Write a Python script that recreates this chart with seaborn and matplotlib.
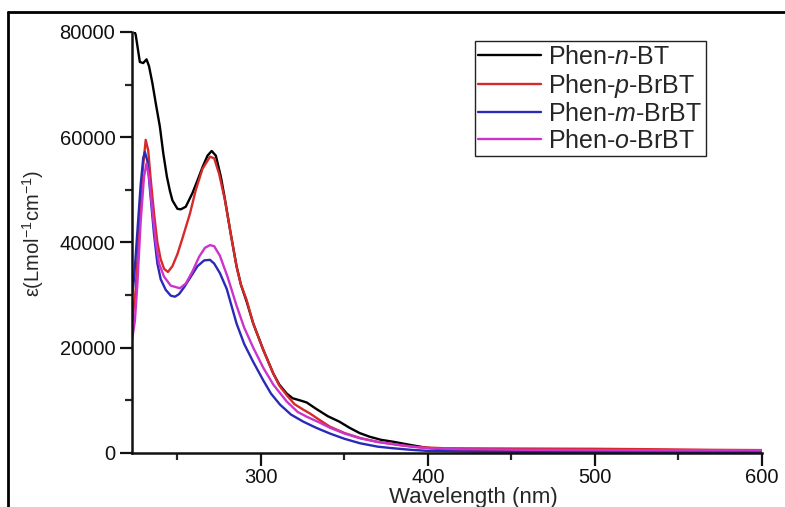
import numpy as np
import pandas as pd
import matplotlib.pyplot as plt
import seaborn as sns
from matplotlib.lines import Line2D
from matplotlib.ticker import MultipleLocator

n_bt_wl = [223, 225, 227.5, 229.5, 231.5, 233, 235, 237, 239.5, 241.5, 243.7, 245.5, 247, 250,
           252, 255, 259, 262, 265, 268, 270.5, 273, 276, 278.4, 282, 285.4, 288, 291.4, 295.4,
           301.4, 307.4, 311, 315.4, 319, 323.4, 327.4, 333, 340, 347, 353, 359, 365, 372, 379,
           390, 399, 410, 430, 460, 500, 550, 600]
n_bt_eps = [81000, 79500, 74300, 74100, 74800, 73500, 70300, 66500, 62000, 57000, 52500, 49800,
            48000, 46400, 46300, 46800, 49400, 51800, 54300, 56500, 57400, 56500, 52500, 48300,
            41500, 35500, 32000, 28800, 24600, 19600, 15100, 13000, 11300, 10400, 10000, 9600,
            8400, 7000, 5950, 4800, 3800, 3100, 2500, 2150, 1500, 1000, 700, 500, 400, 300, 200, 150]

p_brbt_wl = [223, 225, 227, 229, 231, 232.5, 234, 236, 238, 240, 242, 244.3, 247, 250, 253, 257.5,
             261, 265, 269.5, 272, 275, 278.4, 282, 285.4, 288, 291.4, 295.4, 301.4, 307.4, 311,
             315.4, 320, 325, 329.4, 335, 341.3, 350, 359.3, 370, 383, 395, 410, 450, 500, 540,
             570, 600]
p_brbt_eps = [25000, 31000, 42000, 53000, 59500, 57500, 52000, 45500, 40000, 36800, 35000, 34400,
              35500, 37800, 40800, 45500, 50000, 54000, 56300, 56000, 53000, 48100, 41500, 35400,
              32000, 29100, 24600, 19600, 15100, 12800, 11000, 9300, 8300, 7500, 6300, 5000, 3800,
              2850, 2100, 1500, 1100, 900, 850, 800, 700, 600, 550]

m_brbt_wl = [222.8, 224, 226, 228, 229.5, 230.5, 232, 234, 236, 238, 240, 243, 246, 248.5, 251,
             254, 258, 262, 266, 269.5, 272, 275.4, 279.5, 285.4, 290, 295.4, 301.4, 306, 311.4,
             318, 325.4, 333, 341.3, 350, 359.3, 370, 379.2, 390, 400, 430, 480, 540, 600]
m_brbt_eps = [30000, 33000, 42000, 51000, 56000, 57200, 55500, 48500, 41500, 36000, 33000, 31000,
              29900, 29700, 30200, 31500, 33500, 35500, 36600, 36700, 36000, 34200, 31200, 24600,
              20700, 17300, 13800, 11300, 9200, 7300, 5950, 4800, 3700, 2700, 1850, 1200, 900,
              600, 400, 250, 200, 150, 100]

o_brbt_wl = [222.8, 224.5, 226, 228, 230, 231.5, 233, 235, 237, 239, 242, 246, 251.5, 255, 259,
             263, 266.5, 269.5, 272, 275.4, 280, 285.4, 290, 295.4, 301.4, 307.4, 315.4, 322,
             327.4, 335, 341.3, 350, 359.3, 370, 379.2, 390, 400, 420, 460, 500, 550, 600]
o_brbt_eps = [21500, 25000, 32000, 44000, 52500, 55000, 52500, 46000, 40000, 36000, 33500, 31800,
              31300, 32200, 34500, 37300, 39000, 39500, 39300, 37500, 33500, 28000, 23800, 20000,
              16200, 13000, 9800, 7800, 6900, 5800, 4800, 3700, 2800, 2100, 1700, 1200, 900, 700,
              600, 550, 500, 500]

labels = ['Phen-$\\it{n}$-BT', 'Phen-$\\it{p}$-BrBT', 'Phen-$\\it{m}$-BrBT', 'Phen-$\\it{o}$-BrBT']
colors = ['#000000', '#d62a2a', '#2a2ab8', '#cc33cc']

series = [(n_bt_wl, n_bt_eps), (p_brbt_wl, p_brbt_eps), (m_brbt_wl, m_brbt_eps), (o_brbt_wl, o_brbt_eps)]
df = pd.concat([pd.DataFrame({'wl': w, 'eps': e, 'compound': lab})
                for (w, e), lab in zip(series, labels)], ignore_index=True)

sns.set_style('ticks')
plt.rcParams['font.family'] = ['Liberation Sans', 'DejaVu Sans']
plt.rcParams['mathtext.fontset'] = 'custom'
plt.rcParams['mathtext.rm'] = 'Liberation Sans'
plt.rcParams['mathtext.it'] = 'Liberation Sans:italic'

fig = plt.figure(figsize=(7.85, 5.07), dpi=100)
ax = fig.add_axes([132/785, 54/507, 630/785, 421/507])

sns.lineplot(data=df, x='wl', y='eps', hue='compound', palette=colors, hue_order=labels,
             sort=False, estimator=None, linewidth=1.7, ax=ax)

ax.set_xlim(222.8, 600)
ax.set_ylim(0, 80000)
ax.xaxis.set_major_locator(MultipleLocator(100))
ax.xaxis.set_minor_locator(MultipleLocator(50))
ax.yaxis.set_major_locator(MultipleLocator(20000))
ax.yaxis.set_minor_locator(MultipleLocator(10000))
ax.tick_params(which='major', length=9, width=1.6, labelsize=14.5, colors='#111111', pad=3)
ax.tick_params(axis='x', which='major', pad=1.5)
ax.tick_params(which='minor', length=5, width=1.6)
for s in ['top', 'right']:
    ax.spines[s].set_visible(False)
for s in ['left', 'bottom']:
    ax.spines[s].set_linewidth(1.8)
    ax.spines[s].set_color('#111111')

ax.set_xlabel('Wavelength (nm)', fontsize=16)
ax.xaxis.set_label_coords((473 - 132) / 630, -0.081)
ax.set_ylabel('ε(Lmol$^{-1}$cm$^{-1}$)', fontsize=14.5)
ax.yaxis.set_label_coords(-0.136, (453 - 233) / 421)

handles = [Line2D([], [], color=c, lw=1.7) for c in colors]
ax.legend(handles, labels, loc='upper left', bbox_to_anchor=(0.544, 0.978), borderaxespad=0,
          fontsize=18, frameon=True, fancybox=False, edgecolor='#222222', framealpha=1,
          handlelength=2.5, handletextpad=0.3, labelspacing=0.1, borderpad=0.15)
ax.get_legend().get_frame().set_linewidth(1.0)

# frame lines of the cropped original figure
fig.add_artist(Line2D([8/785, 8/785], [0, 1 - 12/507], transform=fig.transFigure, color='k', lw=2))
fig.add_artist(Line2D([8/785, 1], [1 - 12/507, 1 - 12/507], transform=fig.transFigure, color='k', lw=2))

fig.savefig('out.png', dpi=100)
